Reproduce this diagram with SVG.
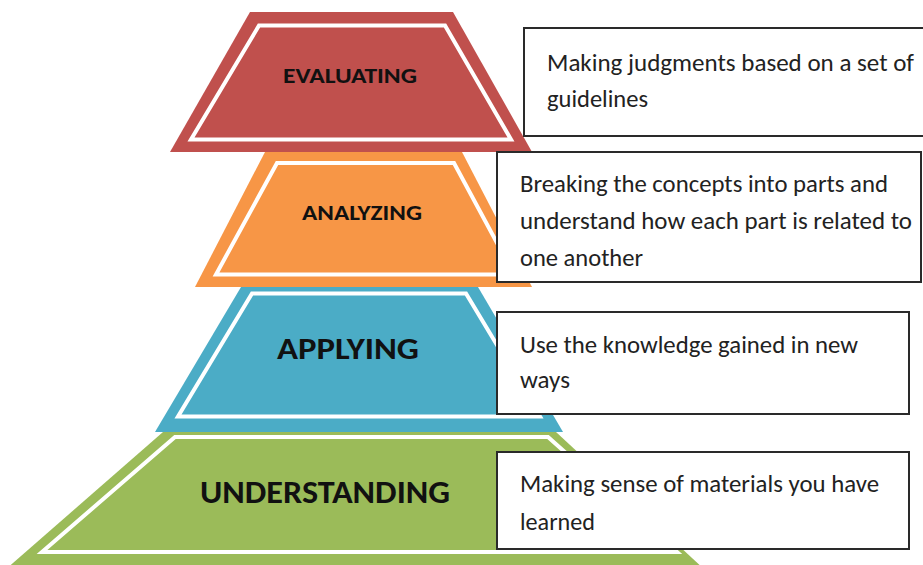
<svg xmlns="http://www.w3.org/2000/svg" width="923" height="565" viewBox="0 0 923 565">
  <style>
    .inner { fill: none; stroke: #ffffff; stroke-width: 4; stroke-linejoin: miter; }
    .title { font-family: Carlito, Lato, "Open Sans", sans-serif; font-weight: bold; fill: #111111; }
    .box { fill: #ffffff; stroke: #2a2a2a; stroke-width: 2; }
    .desc { font-family: Carlito, Lato, "Open Sans", sans-serif; font-size: 24px; fill: #222222; }
  </style>
  <rect x="0" y="0" width="923" height="565" fill="#ffffff"/>

  <g id="level-understanding">
    <polygon points="163,432 556,432 705,570 5,570" fill="#9BBB59"/>
    <polygon class="inner" points="175,437 548,437 677,552 42,552"/>
    <text class="title" x="200" y="503" font-size="32" textLength="250" lengthAdjust="spacingAndGlyphs">UNDERSTANDING</text>
  </g>

  <g id="level-applying">
    <polygon points="241,287 478,287 563,432 155,432" fill="#4BACC6"/>
    <polygon class="inner" points="252,293.5 466,293.5 540,416.5 178,416.5"/>
    <text class="title" x="277" y="359" font-size="30" textLength="142" lengthAdjust="spacingAndGlyphs">APPLYING</text>
  </g>

  <g id="level-analyzing">
    <polygon points="265,152 462,152 532,287 195,287" fill="#F79646"/>
    <polygon class="inner" points="277,163 454,163 514,274.5 216,274.5"/>
    <text class="title" x="302" y="220" font-size="23" textLength="120" lengthAdjust="spacingAndGlyphs">ANALYZING</text>
  </g>

  <g id="level-evaluating">
    <polygon points="250,12 453,12 532,152 170,152" fill="#C0504D"/>
    <polygon class="inner" points="259,25.5 445,25.5 511,139.5 191,139.5"/>
    <text class="title" x="283" y="83" font-size="23" textLength="134" lengthAdjust="spacingAndGlyphs">EVALUATING</text>
  </g>

  <g id="connectors"/>

  <g id="box-evaluating">
    <rect class="box" x="524" y="28" width="410" height="108"/>
    <text class="desc" x="547" y="71" textLength="367" lengthAdjust="spacingAndGlyphs">Making judgments based on a set of</text>
    <text class="desc" x="547" y="107" textLength="101" lengthAdjust="spacingAndGlyphs">guidelines</text>
  </g>

  <g id="box-analyzing">
    <rect class="box" x="497" y="152" width="424" height="130"/>
    <text class="desc" x="520" y="192" textLength="368" lengthAdjust="spacingAndGlyphs">Breaking the concepts into parts and</text>
    <text class="desc" x="520" y="229" textLength="392" lengthAdjust="spacingAndGlyphs">understand how each part is related to</text>
    <text class="desc" x="520" y="266" textLength="123" lengthAdjust="spacingAndGlyphs">one another</text>
  </g>

  <g id="box-applying">
    <rect class="box" x="497" y="312" width="412" height="102"/>
    <text class="desc" x="520" y="353" textLength="338" lengthAdjust="spacingAndGlyphs">Use the knowledge gained in new</text>
    <text class="desc" x="520" y="388" textLength="50" lengthAdjust="spacingAndGlyphs">ways</text>
  </g>

  <g id="box-understanding">
    <rect class="box" x="497" y="452" width="412" height="97"/>
    <text class="desc" x="520" y="492" textLength="359" lengthAdjust="spacingAndGlyphs">Making sense of materials you have</text>
    <text class="desc" x="520" y="530" textLength="75" lengthAdjust="spacingAndGlyphs">learned</text>
  </g>
</svg>
